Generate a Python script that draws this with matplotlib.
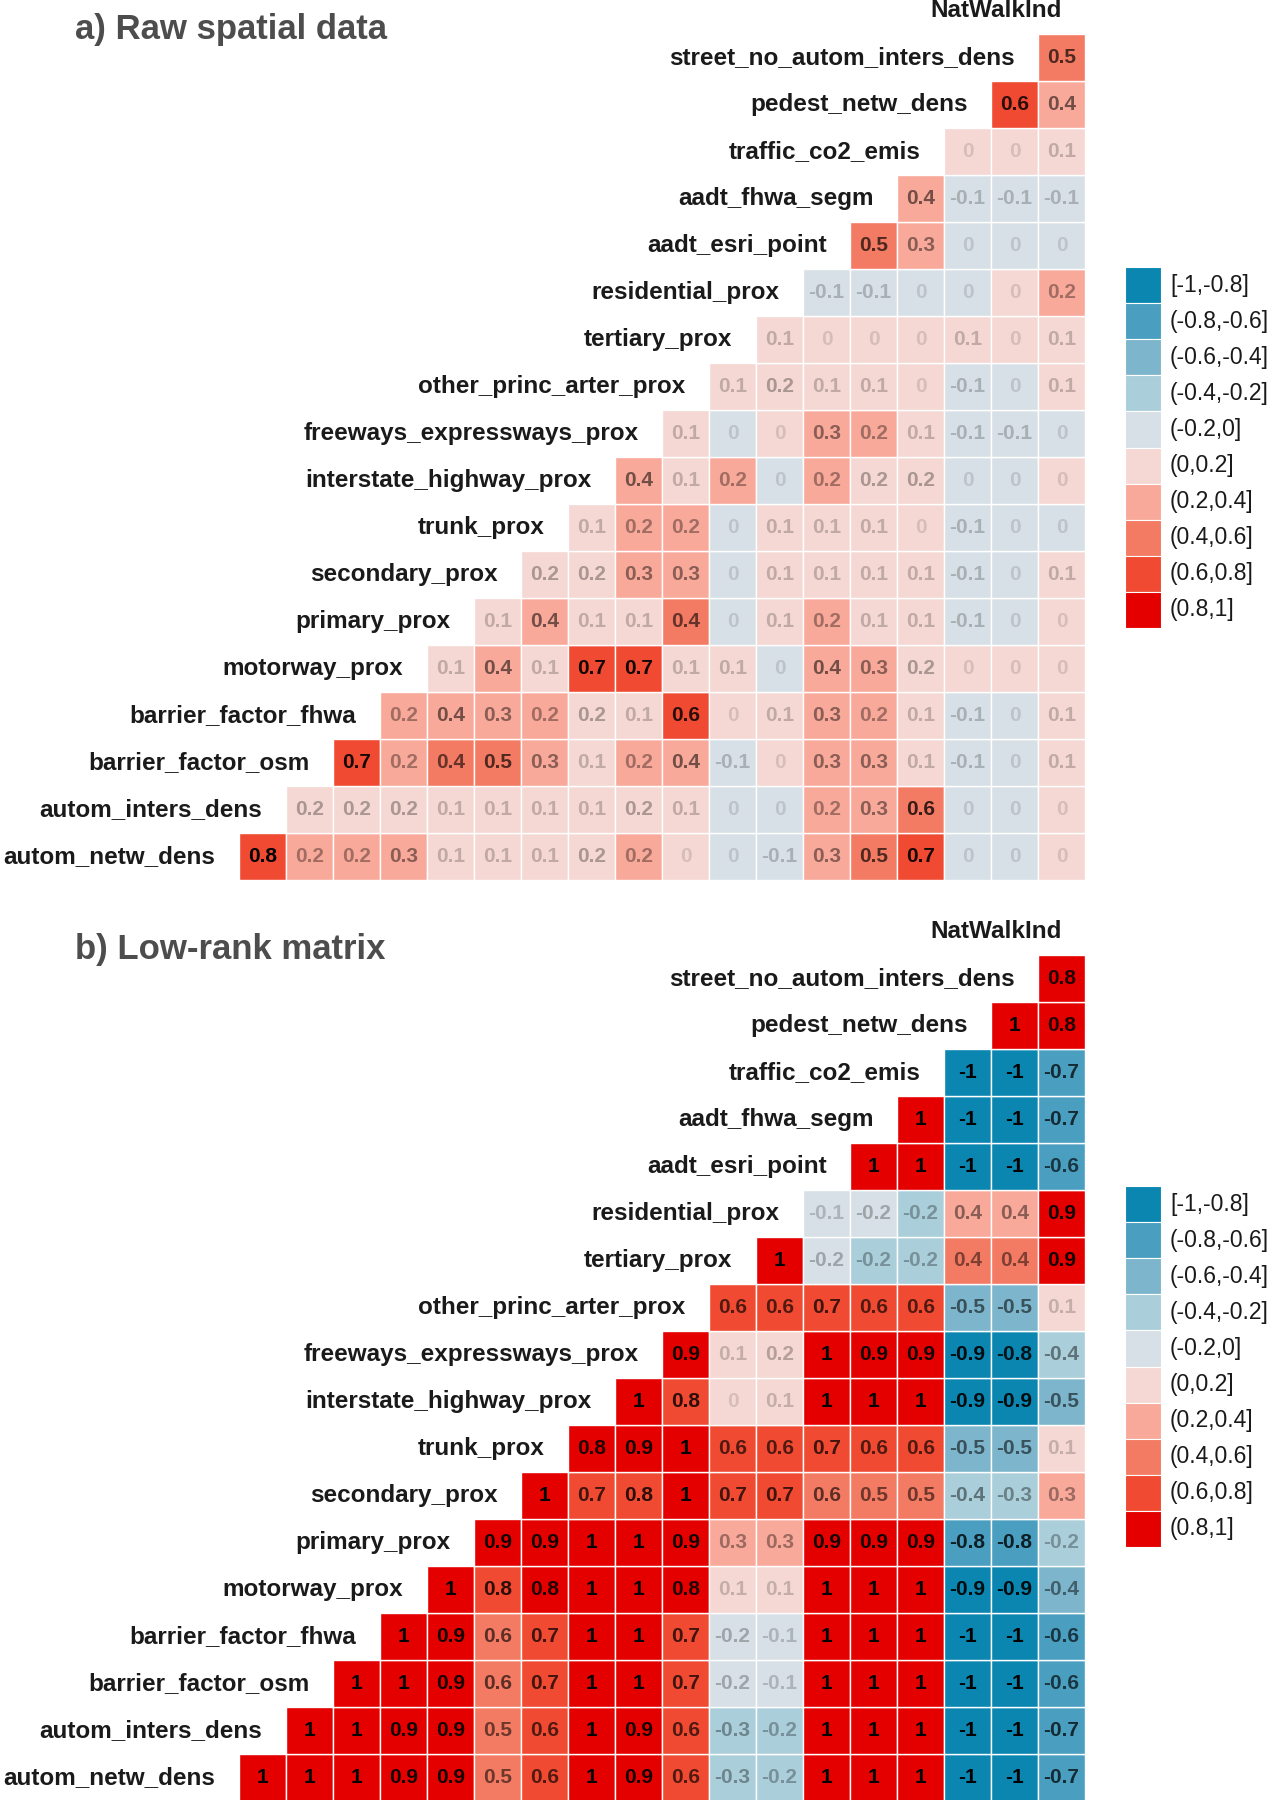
import matplotlib
matplotlib.use('Agg')
import matplotlib.pyplot as plt
from matplotlib.patches import Rectangle
import numpy as np

plt.rcParams['font.family'] = ['Liberation Sans', 'DejaVu Sans']

variables = [
    "autom_netw_dens", "autom_inters_dens", "barrier_factor_osm", "barrier_factor_fhwa",
    "motorway_prox", "primary_prox", "secondary_prox", "trunk_prox",
    "interstate_highway_prox", "freeways_expressways_prox", "other_princ_arter_prox",
    "tertiary_prox", "residential_prox", "aadt_esri_point", "aadt_fhwa_segm",
    "traffic_co2_emis", "pedest_netw_dens", "street_no_autom_inters_dens", "NatWalkInd",
]

# row i (variable i) holds correlations with variables i+1 ... 19
raw_rows = [
    [0.78, 0.22, 0.22, 0.3, 0.1, 0.1, 0.1, 0.18, 0.22, 0.02, -0.02, -0.1, 0.3, 0.5, 0.7, -0.02, -0.02, 0.02],
    [0.18, 0.18, 0.18, 0.1, 0.1, 0.1, 0.1, 0.18, 0.1, -0.02, -0.02, 0.22, 0.3, 0.58, -0.02, -0.02, 0.02],
    [0.7, 0.22, 0.42, 0.5, 0.3, 0.1, 0.22, 0.38, -0.1, 0.02, 0.3, 0.3, 0.1, -0.1, -0.02, 0.1],
    [0.22, 0.38, 0.3, 0.22, 0.18, 0.1, 0.62, 0.02, 0.1, 0.3, 0.22, 0.1, -0.1, -0.02, 0.1],
    [0.1, 0.38, 0.1, 0.7, 0.7, 0.1, 0.1, -0.02, 0.38, 0.3, 0.18, 0.02, 0.02, 0.02],
    [0.1, 0.38, 0.1, 0.1, 0.42, -0.02, 0.1, 0.22, 0.1, 0.1, -0.1, -0.02, 0.02],
    [0.18, 0.18, 0.3, 0.3, -0.02, 0.1, 0.1, 0.1, 0.1, -0.1, -0.02, 0.1],
    [0.1, 0.22, 0.22, -0.02, 0.1, 0.1, 0.1, 0.02, -0.1, -0.02, -0.02],
    [0.38, 0.1, 0.22, -0.02, 0.22, 0.18, 0.18, -0.02, -0.02, 0.02],
    [0.1, -0.02, 0.02, 0.3, 0.22, 0.1, -0.1, -0.1, -0.02],
    [0.1, 0.18, 0.1, 0.1, 0.02, -0.1, -0.02, 0.1],
    [0.1, 0.02, 0.02, 0.02, 0.1, 0.02, 0.1],
    [-0.1, -0.1, -0.02, -0.02, 0.02, 0.22],
    [0.5, 0.3, -0.02, -0.02, -0.02],
    [0.38, -0.1, -0.1, -0.1],
    [0.02, 0.02, 0.1],
    [0.62, 0.38],
    [0.5],
]

lowrank_rows = [
    [1, 1, 1, 0.9, 0.9, 0.5, 0.62, 1, 0.9, 0.62, -0.28, -0.22, 1, 1, 1, -1, -1, -0.7],
    [1, 1, 0.9, 0.9, 0.5, 0.62, 1, 0.9, 0.62, -0.28, -0.22, 1, 1, 1, -1, -1, -0.7],
    [1, 1, 0.9, 0.58, 0.7, 1, 1, 0.7, -0.18, -0.1, 1, 1, 1, -1, -1, -0.62],
    [1, 0.9, 0.58, 0.7, 1, 1, 0.7, -0.18, -0.1, 1, 1, 1, -1, -1, -0.62],
    [1, 0.78, 0.82, 1, 1, 0.82, 0.1, 0.1, 1, 1, 1, -0.9, -0.9, -0.42],
    [0.9, 0.9, 1, 1, 0.9, 0.3, 0.3, 0.9, 0.9, 0.9, -0.78, -0.78, -0.22],
    [1, 0.7, 0.78, 1, 0.7, 0.7, 0.58, 0.5, 0.5, -0.38, -0.3, 0.3],
    [0.82, 0.9, 1, 0.62, 0.62, 0.7, 0.62, 0.62, -0.5, -0.5, 0.1],
    [1, 0.78, 0.02, 0.1, 1, 1, 1, -0.9, -0.9, -0.5],
    [0.9, 0.1, 0.18, 1, 0.9, 0.9, -0.9, -0.82, -0.38],
    [0.62, 0.62, 0.7, 0.62, 0.62, -0.5, -0.5, 0.1],
    [1, -0.18, -0.22, -0.22, 0.42, 0.42, 0.9],
    [-0.1, -0.18, -0.22, 0.38, 0.38, 0.9],
    [1, 1, -1, -1, -0.62],
    [1, -1, -1, -0.7],
    [-1, -1, -0.7],
    [1, 0.82],
    [0.82],
]

bin_edges = [-0.8, -0.6, -0.4, -0.2, 0, 0.2, 0.4, 0.6, 0.8]
bin_labels = ["[-1,-0.8]", "(-0.8,-0.6]", "(-0.6,-0.4]", "(-0.4,-0.2]", "(-0.2,0]",
              "(0,0.2]", "(0.2,0.4]", "(0.4,0.6]", "(0.6,0.8]", "(0.8,1]"]
bin_colors = ['#0A86B1', '#4A9FC1', '#7DB6CC', '#AACEDA', '#D7E0E6',
              '#F5D8D3', '#F9A99A', '#F47B63', '#F04B32', '#E50000']

panel_titles = ["a) Raw spatial data", "b) Low-rank matrix"]

W, H = 1270, 1800
fig = plt.figure(figsize=(W / 100, H / 100), dpi=100)


def px_axes(x0, y0, x1, y1):
    return fig.add_axes([x0 / W, 1 - y1 / H, (x1 - x0) / W, (y1 - y0) / H])


def fmt(v):
    r = round(v, 1)
    if abs(r - round(r)) < 1e-9:
        return str(int(round(r)))
    return f"{r:.1f}"


def bin_index(v):
    return int(sum(v > e + 1e-12 for e in bin_edges))


def draw_panel(top, rows, title, leg_top):
    cell = 47.0
    x0 = 192
    ax = px_axes(x0, top, x0 + 19 * cell, top + 18 * cell)
    ax.set_xlim(0.5, 19.5)
    ax.set_ylim(0.5, 18.5)
    ax.axis('off')
    absvals = [abs(v) for r in rows for v in r]
    amin, amax = min(absvals), max(absvals)
    for i, row in enumerate(rows):
        y = i + 1
        for k, v in enumerate(row):
            x = i + 2 + k
            ax.add_patch(Rectangle((x - 0.5, y - 0.5), 1, 1,
                                   facecolor=bin_colors[bin_index(v)],
                                   edgecolor='white', linewidth=1.0))
            alpha = 0.12 + 0.88 * (abs(v) - amin) / (amax - amin)
            ax.text(x, y, fmt(v), ha='center', va='center', fontsize=15,
                    fontweight='bold', color='black', alpha=alpha)
    for k, name in enumerate(variables):
        ax.text(k + 1, k + 1, name, ha='right', va='center', fontsize=17.5,
                fontweight='bold', color='#1a1a1a', clip_on=False)
    fig.text(75 / W, 1 - (top - 5) / H, title, ha='left', va='center',
             fontsize=25, fontweight='bold', color='#4D4D4D')

    # legend
    box_h = 36.1
    lax = px_axes(1125, leg_top, 1270, leg_top + 10 * box_h)
    lax.set_xlim(0, 145)
    lax.set_ylim(10 * box_h, 0)
    lax.axis('off')
    for b in range(10):
        lax.add_patch(Rectangle((0, b * box_h), 36, box_h, facecolor=bin_colors[b],
                                edgecolor='white', linewidth=0.8))
        lax.text(45, (b + 0.5) * box_h, bin_labels[b], ha='left', va='center',
                 fontsize=16.5, color='#1a1a1a')


draw_panel(34, raw_rows, panel_titles[0], 267)
draw_panel(955, lowrank_rows, panel_titles[1], 1186)

fig.savefig('out.png', dpi=100)
